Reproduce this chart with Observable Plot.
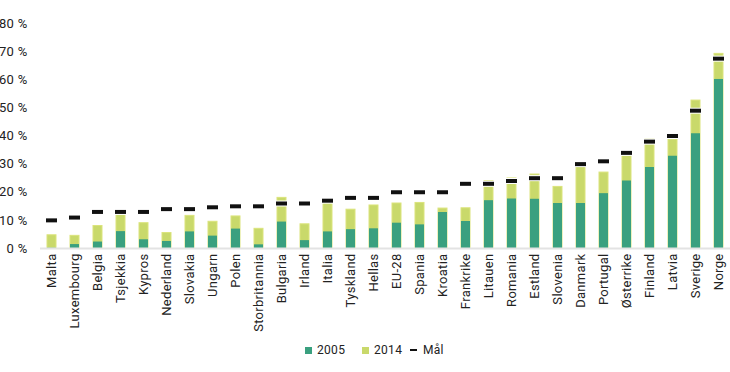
<!DOCTYPE html>
<html>
<head>
<meta charset="utf-8">
<script src="https://cdn.jsdelivr.net/npm/d3@7"></script>
<script src="https://cdn.jsdelivr.net/npm/@observablehq/plot@0.6"></script>
<style>
  body { margin: 0; background: white; font-family: Roboto, sans-serif; }
  #chart svg text { letter-spacing: 0.3px; }
  #legend { position: relative; height: 36px; font-size: 12px; color: #222; letter-spacing: 0.3px; }
  .item { position: absolute; top: 7px; display: flex; align-items: center; line-height: 14px; }
  .sw { width: 7px; height: 7px; margin-right: 5px; }
  .dash { width: 7px; height: 2px; background: #111; margin-right: 6px; }
</style>
</head>
<body>
<div id="chart"></div>
<div id="legend"></div>
<script>
const countries = ["Malta","Luxembourg","Belgia","Tsjekkia","Kypros","Nederland","Slovakia","Ungarn","Polen","Storbritannia","Bulgaria","Irland","Italia","Tyskland","Hellas","EU-28","Spania","Kroatia","Frankrike","Litauen","Romania","Estland","Slovenia","Danmark","Portugal","Østerrike","Finland","Latvia","Sverige","Norge"];
const v2005 = [0.1,1.4,2.3,6.0,3.1,2.5,5.9,4.4,6.9,1.3,9.4,2.8,5.9,6.7,7.0,9.0,8.4,12.8,9.6,17.0,17.6,17.5,16.0,16.0,19.5,24.0,28.8,32.8,40.8,60.1];
const v2014 = [4.7,4.5,8.0,12.9,9.0,5.5,11.6,9.5,11.4,7.0,18.0,8.6,17.1,13.8,15.3,16.0,16.2,14.2,14.3,23.9,24.9,26.3,21.9,29.2,27.0,33.1,38.7,38.7,52.6,69.2];
const goals = [10,11,13,13,13,14,14,14.65,15,15,16,16,17,18,18,20,20,20,23,23,24,25,25,30,31,34,38,40,49,67.5];
const yTicks = [0,10,20,30,40,50,60,70,80];
const seriesNames = ["2005","2014","Mål"];
const colors = {"2005":"#3aa07f","2014":"#c9d96b","Mål":"#111"};

const rows = countries.map((c,i)=>({country:c, y2005:v2005[i], y2014:v2014[i], goal:goals[i]}));

const chart = Plot.plot({
  width: 730, height: 336,
  marginLeft: 40, marginRight: 0, marginTop: 23, marginBottom: 88,
  style: {fontFamily: "Roboto, sans-serif", fontSize: "13px", color: "#222", background: "white", overflow: "visible"},
  x: {domain: countries, paddingInner: 0.6, paddingOuter: 0.3, label: null, tickSize: 0, tickPadding: 5, tickRotate: -90},
  y: {domain: [0,80], ticks: yTicks, tickFormat: d => d + " %", label: null, tickSize: 0, tickPadding: 13},
  marks: [
    Plot.barY(rows, {x: "country", y: "y2014", fill: colors["2014"], stroke: "#dbe47c", strokeWidth: 1}),
    Plot.barY(rows, {x: "country", y: "y2005", fill: colors["2005"]}),
    Plot.ruleY([0], {stroke: "#e3e3e3", strokeWidth: 2}),
    Plot.tickY(rows, {x: "country", y: "goal", stroke: "white", strokeWidth: 6, insetLeft: -2, insetRight: -2}),
    Plot.tickY(rows, {x: "country", y: "goal", stroke: colors["Mål"], strokeWidth: 4, insetLeft: -1, insetRight: -1})
  ]
});
document.getElementById("chart").appendChild(chart);

const legend = document.getElementById("legend");
const lefts = [305, 362, 410];
seriesNames.forEach((name, i) => {
  const item = document.createElement("div");
  item.className = "item";
  item.style.left = lefts[i] + "px";
  const sw = document.createElement("div");
  if (name === "Mål") { sw.className = "dash"; }
  else { sw.className = "sw"; sw.style.background = colors[name]; }
  const t = document.createElement("span");
  t.textContent = name;
  item.appendChild(sw); item.appendChild(t);
  legend.appendChild(item);
});
</script>
</body>
</html>
